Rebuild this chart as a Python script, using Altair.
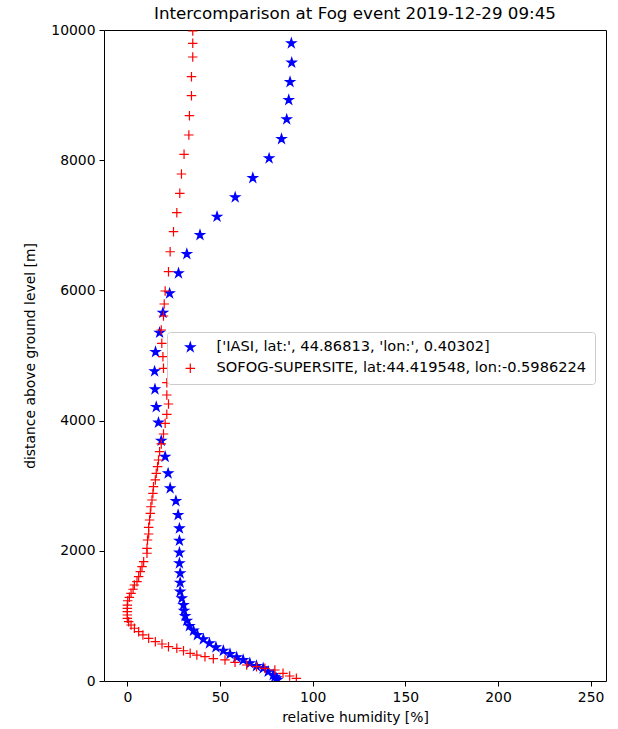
import altair as alt
import pandas as pd

# IASI profile (relative humidity [%], altitude [m])
iasi_rh = [88.5, 88.7, 87.8, 87.1, 86.0, 83.2, 76.5, 67.7, 58.2, 48.4, 39.2, 32.1, 27.6, 22.8,
           19.2, 17.4, 15.2, 14.7, 14.9, 15.6, 16.8, 18.3, 20.4, 22.0, 23.1, 26.2, 27.4, 28.1,
           28.1, 28.1, 28.1, 28.5, 28.5, 28.5, 29.4, 30.3, 30.6, 31.2, 32.1, 33.5, 35.7, 37.8,
           41.0, 44.3, 47.8, 51.8, 55.4, 59.0, 62.5, 66.1, 69.7, 73.3, 76.0, 78.7, 79.6, 80.5, 80.8]
iasi_alt = [9796, 9498, 9201, 8925, 8628, 8326, 8029, 7727, 7430, 7132, 6851, 6559, 6263, 5955,
            5657, 5350, 5054, 4757, 4481, 4209, 3968, 3691, 3445, 3190, 2960, 2765, 2550, 2345,
            2155, 1971, 1808, 1654, 1510, 1372, 1270, 1167, 1080, 998, 926, 845, 773, 707,
            641, 579, 518, 465, 415, 364, 323, 272, 230, 195, 143, 92, 65, 41, 15]

# SOFOG-SUPERSITE profile
sofog_rh = [35.3, 35.3, 35.3, 34.6, 34.6, 33.5, 33.2, 30.6, 29.2, 28.3, 26.7, 24.9, 23.1, 22.2,
            20.4, 19.9, 19.5, 18.3, 18.6, 19.2, 19.5, 21.3, 21.3, 22.2, 21.3, 20.4, 19.5, 18.3,
            17.4, 16.8, 16.3, 15.6, 15.1, 14.1, 13.8, 13.3, 12.7, 12.4, 12.0, 11.5, 11.5, 10.9,
            10.6, 10.6, 8.8, 7.9, 7.0, 6.1, 5.2, 3.8, 3.1, 2.0, 1.1, 0.2, 0.0, 0.0, 0.0, 0.0,
            0.0, 0.7, 2.0, 3.8, 6.1, 8.4, 11.5, 15.1, 18.7, 22.2, 26.7, 30.3, 33.9, 37.5, 41.9,
            46.4, 52.7, 58.1, 64.4, 69.7, 74.2, 79.6, 84.0, 87.6, 91.2]
sofog_alt = [9985, 9796, 9585, 9283, 8991, 8684, 8387, 8091, 7788, 7491, 7194, 6902, 6594, 6287,
             5991, 5791, 5607, 5392, 5187, 4982, 4803, 4582, 4393, 4255, 4097, 3958, 3794, 3641,
             3522, 3395, 3292, 3190, 3088, 2985, 2883, 2780, 2677, 2576, 2473, 2361, 2258, 2166,
             2038, 1962, 1833, 1756, 1679, 1602, 1525, 1475, 1409, 1347, 1286, 1233, 1167, 1117,
             1065, 1014, 963, 911, 860, 810, 757, 707, 656, 604, 568, 527, 502, 465, 425, 399, 373,
             343, 323, 287, 246, 220, 195, 169, 118, 77, 41]

series_names = ["['IASI, lat:', 44.86813, 'lon:', 0.40302]",
                "SOFOG-SUPERSITE, lat:44.419548, lon:-0.5986224"]

x_ticks = [0, 50, 100, 150, 200, 250]
y_ticks = [0, 2000, 4000, 6000, 8000, 10000]

df = pd.concat([
    pd.DataFrame({"rh": iasi_rh, "alt": iasi_alt, "series": series_names[0], "order": 0}),
    pd.DataFrame({"rh": sofog_rh, "alt": sofog_alt, "series": series_names[1], "order": 1}),
], ignore_index=True)

STAR = ("M0,-1L0.2245,-0.309L0.951,-0.309L0.3633,0.118L0.5878,0.809L0,0.382"
        "L-0.5878,0.809L-0.3633,0.118L-0.951,-0.309L-0.2245,-0.309Z")
PLUS = "M-1,0L1,0M0,-1L0,1"

FONT = "DejaVu Sans"

legend = alt.Legend(
    title=None, orient="none", legendX=63, legendY=302,
    fillColor="white", strokeColor="#cccccc", cornerRadius=3, padding=8,
    labelFont=FONT, labelFontSize=14.6, labelColor="#000000", labelLimit=1000,
    symbolOffset=8, labelOffset=19, rowPadding=6, symbolSize=90,
    symbolStrokeWidth=1.2,
)

chart = alt.Chart(df).mark_point(size=90, strokeWidth=1.2, opacity=1, clip=True).encode(
    x=alt.X("rh:Q", scale=alt.Scale(domain=[-12.6, 258.3], nice=False, zero=False),
            axis=alt.Axis(values=x_ticks, title="relative humidity [%]", format="d")),
    y=alt.Y("alt:Q", scale=alt.Scale(domain=[0, 10000], nice=False, zero=False),
            axis=alt.Axis(values=y_ticks, title="distance above ground level [m]", format="d")),
    shape=alt.Shape("series:N", scale=alt.Scale(domain=series_names, range=[STAR, PLUS]), legend=legend),
    fill=alt.Fill("series:N", scale=alt.Scale(domain=series_names, range=["#0000ff", "transparent"]), legend=legend),
    stroke=alt.Stroke("series:N", scale=alt.Scale(domain=series_names, range=["#0000ff", "#ff0000"]), legend=legend),
    order=alt.Order("order:Q"),
).properties(
    width=502, height=651,
    title=alt.TitleParams("Intercomparison at Fog event 2019-12-29 09:45",
                          font=FONT, fontSize=16.7, fontWeight="normal", color="#000000", offset=0),
    autosize=alt.AutoSizeParams(type="none"),
    padding={"left": 104, "top": 30, "right": 12, "bottom": 48},
).configure_view(
    stroke="#000000", strokeWidth=1,
).configure_axis(
    grid=False, domain=False, tickColor="#000000", tickSize=5, tickWidth=1,
    labelFont=FONT, labelFontSize=13.9, labelColor="#000000", labelPadding=4,
    titleFont=FONT, titleFontSize=13.9, titleFontWeight="normal", titleColor="#000000",
).configure_axisY(titlePadding=13).configure_axisX(titlePadding=7)

chart.save("out.html", embed_options={"renderer": "svg", "actions": False})
